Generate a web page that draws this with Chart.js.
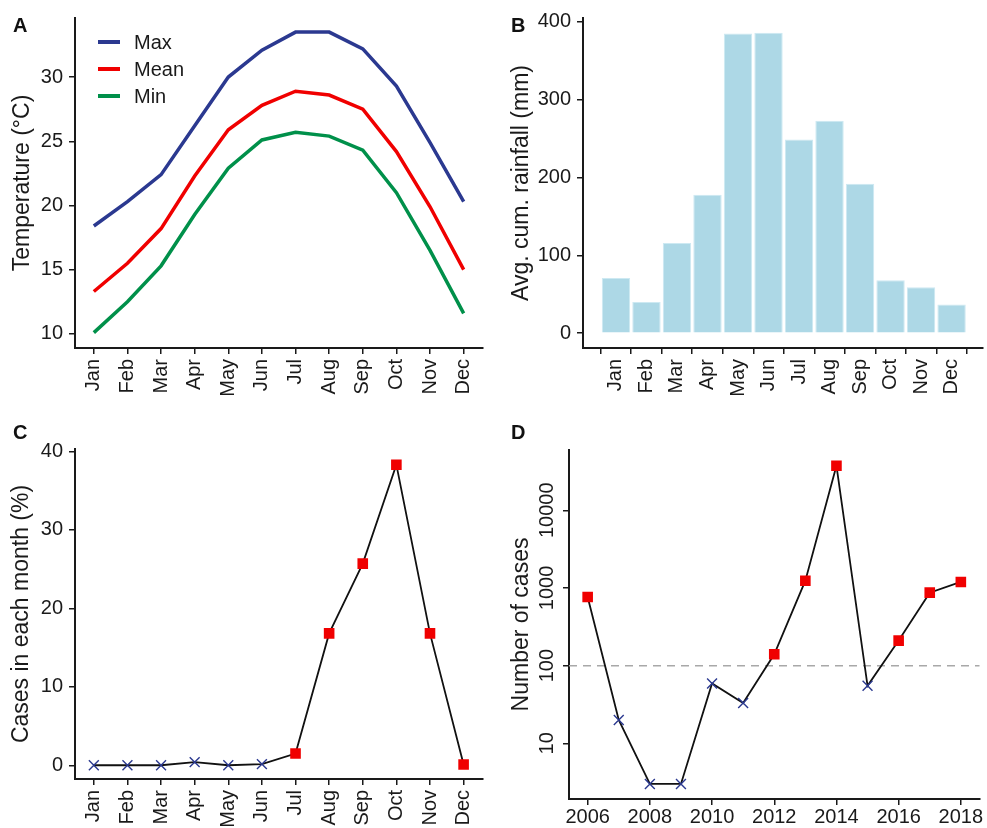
<!DOCTYPE html>
<html>
<head>
<meta charset="utf-8">
<script src="https://cdn.jsdelivr.net/npm/chart.js@4.4.1/dist/chart.umd.min.js"></script>
<style>
  body { margin: 0; background: #fff; width: 987px; height: 828px; position: relative; overflow: hidden; font-family: "Liberation Sans", Arial, sans-serif; }
  .panel { position: absolute; }
  .tag { position: absolute; font-weight: bold; font-size: 20px; line-height: 20px; color: #111; }
</style>
</head>
<body>
<div class="panel" style="left:0;top:0"><canvas id="chartA" width="493" height="414"></canvas></div>
<div class="panel" style="left:493px;top:0"><canvas id="chartB" width="494" height="414"></canvas></div>
<div class="panel" style="left:0;top:414px"><canvas id="chartC" width="493" height="414"></canvas></div>
<div class="panel" style="left:493px;top:414px"><canvas id="chartD" width="494" height="414"></canvas></div>
<div class="tag" style="left:13px;top:15px">A</div>
<div class="tag" style="left:511px;top:15px">B</div>
<div class="tag" style="left:13px;top:422px">C</div>
<div class="tag" style="left:511px;top:422px">D</div>

<script>
// Données
const months = ['Jan', 'Feb', 'Mar', 'Apr', 'May', 'Jun', 'Jul', 'Aug', 'Sep', 'Oct', 'Nov', 'Dec'];
const tempMax = [18.4, 20.3, 22.4, 26.2, 30.0, 32.1, 33.5, 33.5, 32.2, 29.3, 24.9, 20.3];
const tempMean = [13.3, 15.5, 18.2, 22.3, 25.9, 27.8, 28.9, 28.6, 27.5, 24.2, 19.9, 15.0];
const tempMin = [10.1, 12.5, 15.3, 19.3, 22.9, 25.1, 25.7, 25.4, 24.3, 21.0, 16.5, 11.6];
const tempTicks = [10, 15, 20, 25, 30];

const rainfall = [71, 40, 116, 178, 385, 386, 249, 273, 192, 68, 59, 37];
const rainTicks = [0, 100, 200, 300, 400];

const monthPct = [0, 0, 0, 0.4, 0, 0.15, 1.5, 16.8, 25.7, 38.3, 16.8, 0.1];
const monthMarker = ['x', 'x', 'x', 'x', 'x', 'x', 'sq', 'sq', 'sq', 'sq', 'sq', 'sq'];
const pctTicks = [0, 10, 20, 30, 40];

const years = [2006, 2007, 2008, 2009, 2010, 2011, 2012, 2013, 2014, 2015, 2016, 2017, 2018];
const yearCases = [766, 20, 3, 3, 59, 33, 140, 1240, 37500, 55, 210, 870, 1195];
const yearTicks = [2006, 2008, 2010, 2012, 2014, 2016, 2018];
const caseTicks = [10, 100, 1000, 10000];
const threshold = 100;

const ink = '#1a1a1a';
const navy = '#2b3990';
const red = '#f00000';
const green = '#00904a';
const FONT = '"Liberation Sans", Arial, sans-serif';

Chart.defaults.font.family = FONT;
Chart.defaults.color = ink;
Chart.defaults.animation = false;
Chart.defaults.plugins.legend.display = false;
Chart.defaults.plugins.tooltip.enabled = false;

const fixTicks = values => s => { s.ticks = values.map(v => ({ value: v })); };

function axisBase() {
    return {
        grid: { drawOnChartArea: false, drawTicks: true, tickLength: 6, color: ink, lineWidth: 1.5 },
        border: { display: true, color: ink, width: 2 }
    };
}

function xAxis(min, max, tickVals, height, label, rot, pad) {
    return Object.assign(axisBase(), {
        type: 'linear', min: min, max: max, offset: false,
        afterBuildTicks: fixTicks(tickVals),
        afterFit: s => { s.height = height; },
        ticks: { font: { size: 20 }, color: ink, padding: pad, minRotation: rot, maxRotation: rot, autoSkip: false, callback: label }
    });
}

function yAxis(opts) {
    return Object.assign(axisBase(), {
        type: opts.type || 'linear', min: opts.min, max: opts.max,
        afterBuildTicks: fixTicks(opts.ticks),
        afterFit: s => { s.width = opts.width; },
        ticks: { font: { size: 20 }, color: ink, padding: 6, display: opts.showTicks !== false, callback: v => String(v) },
        title: { display: true, text: opts.title, font: { size: 23 }, color: ink, padding: { top: opts.titlePad, bottom: 0 } }
    });
}

// légende dessinée dans la zone du graphique A
const insideLegend = {
    id: 'insideLegend',
    afterDraw(chart) {
        const ctx = chart.ctx;
        ctx.save();
        ctx.font = '20px ' + FONT;
        ctx.textBaseline = 'middle';
        chart.data.datasets.forEach((ds, i) => {
            const y = 42 + i * 27;
            ctx.strokeStyle = ds.borderColor;
            ctx.lineWidth = 4;
            ctx.beginPath();
            ctx.moveTo(98, y);
            ctx.lineTo(120, y);
            ctx.stroke();
            ctx.fillStyle = ink;
            ctx.fillText(ds.label, 134, y + 1);
        });
        ctx.restore();
    }
};

// Panel A
new Chart(document.getElementById('chartA'), {
    type: 'line',
    data: {
        datasets: [
            { label: 'Max', data: tempMax.map((v, i) => ({ x: i, y: v })), borderColor: navy },
            { label: 'Mean', data: tempMean.map((v, i) => ({ x: i, y: v })), borderColor: red },
            { label: 'Min', data: tempMin.map((v, i) => ({ x: i, y: v })), borderColor: green }
        ]
    },
    options: {
        responsive: false,
        layout: { padding: { left: 0, top: 18, right: 7, bottom: 0 } },
        elements: { line: { borderWidth: 3.5, tension: 0 }, point: { radius: 0 } },
        scales: {
            x: xAxis(-0.56, 11.57, months.map((m, i) => i), 66, v => months[v], 90, 5),
            y: yAxis({ min: 8.9, max: 34.6, ticks: tempTicks, width: 75, title: 'Temperature (°C)', titlePad: 9 })
        }
    },
    plugins: [insideLegend]
});

// Panel B
new Chart(document.getElementById('chartB'), {
    type: 'bar',
    data: {
        datasets: [{
            label: 'Rainfall',
            data: rainfall.map((v, i) => ({ x: i, y: v })),
            backgroundColor: '#add8e6',
            borderColor: '#cde9f2',
            borderWidth: 1,
            categoryPercentage: 0.93,
            barPercentage: 1
        }]
    },
    options: {
        responsive: false,
        layout: { padding: { left: 0, top: 18, right: 4, bottom: 0 } },
        scales: {
            x: xAxis(-1.08, 12.03, months.map((m, i) => i), 66, v => months[v], 90, 5),
            y: yAxis({ min: -19, max: 405, ticks: rainTicks, width: 90, title: 'Avg. cum. rainfall (mm)', titlePad: 15 })
        }
    }
});

// Panel C
new Chart(document.getElementById('chartC'), {
    type: 'line',
    data: {
        datasets: [{
            label: 'Cases',
            data: monthPct.map((v, i) => ({ x: i, y: v })),
            borderColor: '#111',
            borderWidth: 1.8,
            tension: 0,
            pointStyle: monthMarker.map(m => m === 'sq' ? 'rect' : 'crossRot'),
            pointRadius: monthMarker.map(m => m === 'sq' ? 7.5 : 7),
            pointBackgroundColor: monthMarker.map(m => m === 'sq' ? red : navy),
            pointBorderColor: monthMarker.map(m => m === 'sq' ? red : navy),
            pointBorderWidth: monthMarker.map(m => m === 'sq' ? 0 : 1.4)
        }]
    },
    options: {
        responsive: false,
        layout: { padding: { left: 0, top: 35, right: 7, bottom: 0 } },
        scales: {
            x: xAxis(-0.56, 11.57, months.map((m, i) => i), 49, v => months[v], 90, 5),
            y: yAxis({ min: -1.75, max: 40.3, ticks: pctTicks, width: 75, title: 'Cases in each month (%)', titlePad: 8 })
        }
    }
});

// Panel D : ligne de seuil et étiquettes verticales de l'axe log
const thresholdLine = {
    id: 'thresholdLine',
    beforeDatasetsDraw(chart) {
        const { ctx, chartArea, scales } = chart;
        const y = scales.y.getPixelForValue(threshold);
        ctx.save();
        ctx.strokeStyle = '#a8a8a8';
        ctx.lineWidth = 1.5;
        ctx.setLineDash([8, 6]);
        ctx.beginPath();
        ctx.moveTo(chartArea.left, y);
        ctx.lineTo(chartArea.right, y);
        ctx.stroke();
        ctx.restore();
    },
    afterDraw(chart) {
        const { ctx, scales } = chart;
        const x = scales.y.right - 16;
        ctx.save();
        ctx.font = '20px ' + FONT;
        ctx.fillStyle = ink;
        ctx.textAlign = 'center';
        ctx.textBaseline = 'alphabetic';
        scales.y.ticks.forEach(t => {
            ctx.save();
            ctx.translate(x, scales.y.getPixelForValue(t.value));
            ctx.rotate(-Math.PI / 2);
            ctx.fillText(String(t.value), 0, 0);
            ctx.restore();
        });
        ctx.restore();
    }
};

const aboveLine = yearCases.map(v => v >= threshold);
new Chart(document.getElementById('chartD'), {
    type: 'line',
    data: {
        datasets: [{
            label: 'Cases',
            data: yearCases.map((v, i) => ({ x: years[i], y: v })),
            borderColor: '#111',
            borderWidth: 1.8,
            tension: 0,
            pointStyle: aboveLine.map(a => a ? 'rect' : 'crossRot'),
            pointRadius: aboveLine.map(a => a ? 7.5 : 7),
            pointBackgroundColor: aboveLine.map(a => a ? red : navy),
            pointBorderColor: aboveLine.map(a => a ? red : navy),
            pointBorderWidth: aboveLine.map(a => a ? 0 : 1.4)
        }]
    },
    options: {
        responsive: false,
        layout: { padding: { left: 0, top: 36, right: 4, bottom: 0 } },
        scales: {
            x: xAxis(2005.4, 2018.6, yearTicks, 29, v => String(v), 0, 0),
            y: yAxis({ type: 'logarithmic', min: 1.92, max: 59700, ticks: caseTicks, width: 76, title: 'Number of cases', titlePad: 15, showTicks: false })
        }
    },
    plugins: [thresholdLine]
});
</script>
</body>
</html>
